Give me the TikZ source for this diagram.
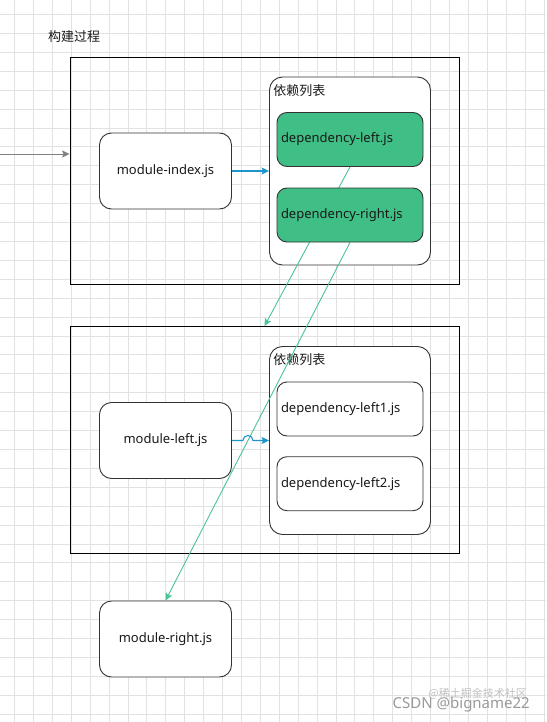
\documentclass[tikz,border=0pt]{standalone}
\usepackage{fontspec}
\setmainfont{Noto Sans}
\newfontfamily\cjk{Noto Sans CJK SC}
\usetikzlibrary{arrows.meta,intersections}
\pgfdeclarelayer{front}
\pgfsetlayers{main,front}
\definecolor{depgreen}{HTML}{3FBF85}
\definecolor{linkgreen}{HTML}{4CC496}
\definecolor{linkblue}{HTML}{1C94CC}
\definecolor{gridgray}{HTML}{E2E2E2}
\definecolor{boxline}{HTML}{333333}

\begin{document}
\begin{tikzpicture}[x=1pt,y=-1pt,>={Stealth[length=7.5pt,width=7pt,inset=1.5pt]},
  every node/.style={font=\fontsize{13}{16}\selectfont,text=black!90},
  buildbox/.style={draw=black,line width=0.9pt,minimum width=389,minimum height=227,inner sep=0},
  listbox/.style={draw=boxline,fill=white,line width=0.9pt,rounded corners=13,minimum width=161,minimum height=188,inner sep=0},
  modbox/.style={draw=boxline,fill=white,line width=0.9pt,rounded corners=12,minimum width=132,minimum height=76,inner sep=0},
  depbox/.style={draw=boxline,fill=white,line width=0.9pt,rounded corners=10,text width=138,inner xsep=4,minimum height=54,align=left},
  listlabel/.style={anchor=west,inner sep=0,font=\cjk\fontsize{13}{16}\selectfont},
  link/.style={->,linkgreen,line width=0.9pt},
  call/.style={->,linkblue,line width=1.1pt}]
  \fill[white] (0,0) rectangle (546,722);
  \useasboundingbox (0,0) rectangle (546,722);
  % grid
  \foreach \k in {0,...,28}
    \draw[gridgray,line width=0.8pt] ({14.5+18.91*\k},0) -- ({14.5+18.91*\k},722);
  \foreach \k in {0,...,37}
    \draw[gridgray,line width=0.8pt] (0,{14.5+18.91*\k}) -- (546,{14.5+18.91*\k});

  \node[anchor=west,inner sep=0,font=\cjk\fontsize{13}{16}\selectfont] (title) at (48,37) {构建过程};

  % build of module-index.js
  \node[buildbox] (build1) at (264.5,170.5) {};
  \node[listbox] (list1) at (350,171) {};
  \node[listlabel] (deps1) at ([xshift=4pt,yshift=-14pt]list1.north west) {依赖列表};
  \node[modbox] (modi) at (165.5,171) {module-index.js};
  \begin{pgfonlayer}{front}
    \node[depbox,fill=depgreen] (depl) at (350,139.5) {dependency-left.js};
    \node[depbox,fill=depgreen] (depr) at (350,215) {dependency-right.js};
  \end{pgfonlayer}

  % build of module-left.js
  \node[buildbox] (build2) at (264.5,440) {};
  \node[listbox] (list2) at (350,440.5) {};
  \node[listlabel] (deps2) at ([xshift=4pt,yshift=-13.5pt]list2.north west) {依赖列表};
  \node[modbox] (modl) at (165.5,440.5) {module-left.js};
  \node[depbox] (depl1) at (350,409) {dependency-left1.js};
  \node[depbox] (depl2) at (350,483.7) {dependency-left2.js};

  \node[modbox] (modr) at (165.5,639) {module-right.js};

  \coordinate (src) at (0,154);
  \draw[->,gray,line width=0.9pt] (src) -- (src -| build1.west);
  \draw[call] (modi) -- (list1);

  \draw[link,name path=right] (depr.south) -- (modr.north);
  \draw[link] (depl.south) -- (build2.north);
  \path[name path=callleft] (modl.east) -- (list2.west);
  \draw[call,name intersections={of=right and callleft,by=jump}]
    (modl.east) -- ([xshift=-5pt]jump) arc[start angle=180,end angle=0,radius=5pt] -- (list2.west);

  \node[anchor=east,inner sep=0,font=\cjk\fontsize{11}{13}\selectfont,text=black!25] (mark1) at (527,694) {@稀土掘金技术社区};
  \node[anchor=east,inner sep=0,font=\fontsize{15}{17}\selectfont,text=black!40] (mark2) at (530,705) {CSDN @bigname22};
\end{tikzpicture}
\end{document}
